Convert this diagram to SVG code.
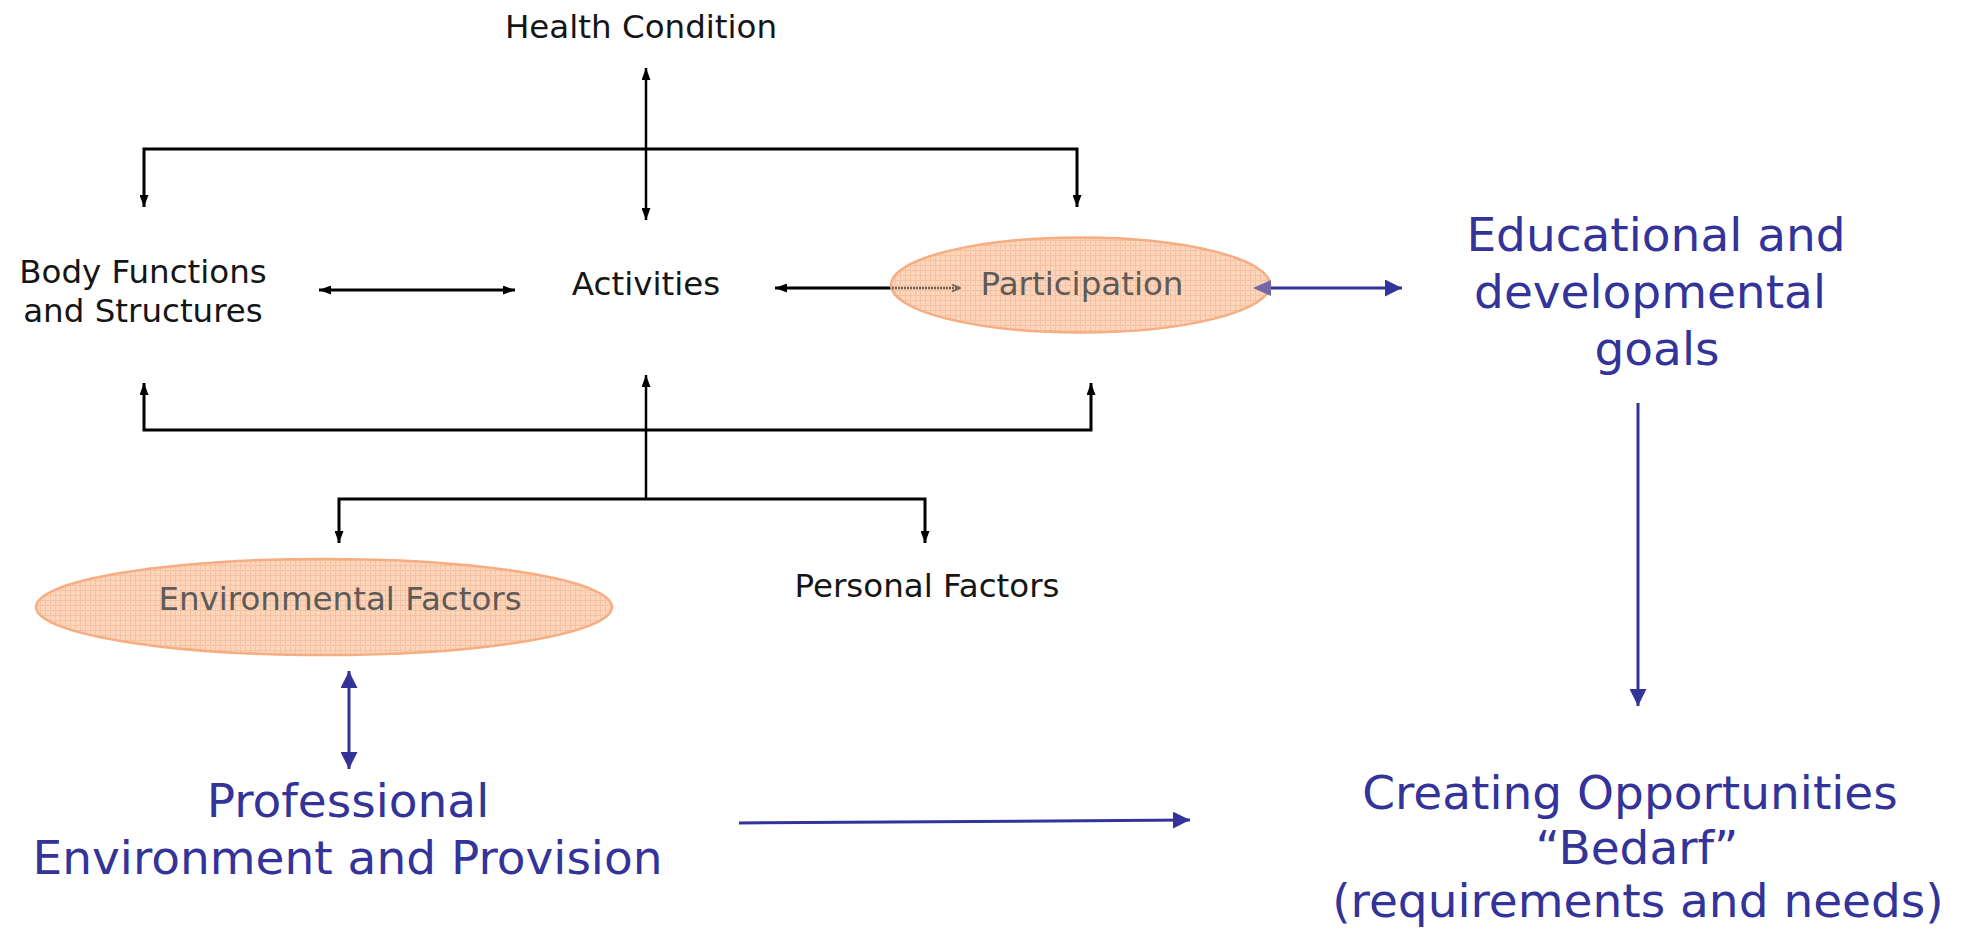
<svg xmlns="http://www.w3.org/2000/svg" width="1964" height="929" viewBox="0 0 1964 929">
<style>
.blk{font-family:"DejaVu Sans","Liberation Sans",sans-serif;font-size:32.5px;fill:#151515;text-anchor:middle}
.gry{font-family:"DejaVu Sans","Liberation Sans",sans-serif;font-size:32.5px;fill:#5e5a58;text-anchor:middle}
.blu{font-family:"DejaVu Sans","Liberation Sans",sans-serif;font-size:47px;fill:#333399;text-anchor:middle}
.ln{fill:none;stroke:#000;stroke-width:3}
.lv{fill:none;stroke:#000;stroke-width:2.5}
.bl{fill:none;stroke:#333399;stroke-width:3}
.ell{fill:url(#hatch);stroke:#F6AD82;stroke-width:2.5}
</style>
<defs>
<pattern id="hatch" width="5" height="5" patternUnits="userSpaceOnUse">
<rect width="5" height="5" fill="#FBD6BD"/>
<path d="M0,0.5 H5 M0.5,0 V5" stroke="#F6C2A2" stroke-width="1"/>
</pattern>
<marker id="ab" markerUnits="userSpaceOnUse" markerWidth="12" markerHeight="9" refX="12" refY="4.5" orient="auto-start-reverse"><path d="M0,0 L12,4.5 L0,9 z" fill="#000"/></marker>
<marker id="ag" markerUnits="userSpaceOnUse" markerWidth="10" markerHeight="9" refX="10" refY="4.5" orient="auto-start-reverse"><path d="M1,1 L9,4.5 L1,8" fill="none" stroke="#6e5e55" stroke-width="1.5"/></marker>
<marker id="au" markerUnits="userSpaceOnUse" markerWidth="17" markerHeight="17" refX="17" refY="8.5" orient="auto-start-reverse"><path d="M0,0 L17,8.5 L0,17 z" fill="#333399"/></marker>
</defs>

<g id="connectors">
<line class="lv" x1="646" y1="68" x2="646" y2="220" marker-start="url(#ab)" marker-end="url(#ab)"/>
<path class="ln" d="M144,207 V149 H1077 V207" marker-start="url(#ab)" marker-end="url(#ab)"/>
<line class="ln" x1="319" y1="290" x2="515" y2="290" marker-start="url(#ab)" marker-end="url(#ab)"/>
<line class="ln" x1="775" y1="288" x2="892" y2="288" marker-start="url(#ab)"/>
<path class="ln" d="M144,383 V430 H1091 V383" marker-start="url(#ab)" marker-end="url(#ab)"/>
<line class="lv" x1="646" y1="499" x2="646" y2="375" marker-end="url(#ab)"/>
<path class="ln" d="M339,543 V499 H925 V543" marker-start="url(#ab)" marker-end="url(#ab)"/>
<line class="bl" x1="349" y1="671" x2="349" y2="769" marker-start="url(#au)" marker-end="url(#au)"/>
<line class="bl" x1="739" y1="823" x2="1190" y2="820" marker-end="url(#au)"/>
<line class="bl" x1="1638" y1="403" x2="1638" y2="706" marker-end="url(#au)"/>
</g>

<g id="health-condition"><text class="blk" x="641" y="38">Health Condition</text></g>
<g id="body-functions"><text class="blk" x="143" y="283">Body Functions</text><text class="blk" x="143" y="322">and Structures</text></g>
<g id="activities"><text class="blk" x="646" y="295">Activities</text></g>

<g id="participation">
<ellipse class="ell" cx="1080.5" cy="285" rx="189.5" ry="47.5"/>
<text class="gry" x="1082" y="295">Participation</text>
<line x1="892" y1="288" x2="961" y2="288" stroke="#6e5e55" stroke-width="2.5" stroke-dasharray="2 1" marker-end="url(#ag)"/>
</g>

<g id="participation-link">
<line class="bl" x1="1270" y1="288" x2="1402" y2="288" marker-end="url(#au)"/>
<path d="M1253,288 L1271,280 L1271,296 z" fill="#7468a8"/>
</g>

<g id="environmental-factors">
<ellipse class="ell" cx="324" cy="607" rx="288" ry="48"/>
<text class="gry" x="340" y="610">Environmental Factors</text>
</g>
<g id="personal-factors"><text class="blk" x="927" y="597">Personal Factors</text></g>

<g id="professional-environment">
<text class="blu" x="348" y="817">Professional</text>
<text class="blu" x="347.5" y="874">Environment and Provision</text>
</g>

<g id="educational-goals">
<text class="blu" x="1656" y="251">Educational and</text>
<text class="blu" x="1650" y="308">developmental</text>
<text class="blu" x="1657" y="365">goals</text>
</g>

<g id="creating-opportunities">
<text class="blu" x="1630" y="809">Creating Opportunities</text>
<text class="blu" x="1637" y="864">“Bedarf”</text>
<text class="blu" x="1638" y="917">(requirements and needs)</text>
</g>
</svg>
